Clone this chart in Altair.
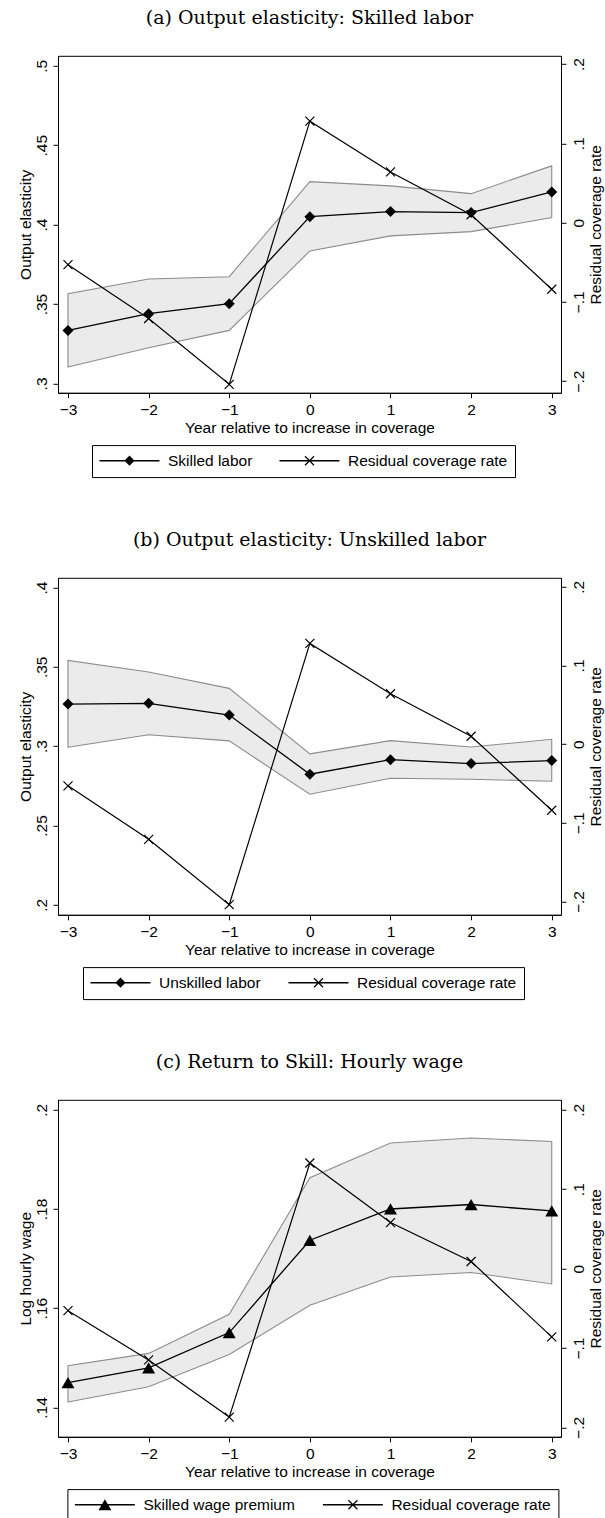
import altair as alt
import pandas as pd

# ---------------- data ----------------
years = [-3, -2, -1, 0, 1, 2, 3]

# (a) Skilled labor
skilled = [0.3334, 0.3439, 0.3502, 0.4050, 0.4082, 0.4076, 0.4206]
skilled_hi = [0.3565, 0.3658, 0.3672, 0.4271, 0.4244, 0.4195, 0.4370]
skilled_lo = [0.3103, 0.3225, 0.3334, 0.3834, 0.3929, 0.3956, 0.4044]

# (b) Unskilled labor
unskilled = [0.3265, 0.3270, 0.3196, 0.2823, 0.2915, 0.2890, 0.2909]
unskilled_hi = [0.3540, 0.3467, 0.3364, 0.2951, 0.3035, 0.2995, 0.3043]
unskilled_lo = [0.2993, 0.3072, 0.3033, 0.2697, 0.2798, 0.2791, 0.2779]

# residual coverage rate, panels (a) and (b)
resid_ab = [-0.053, -0.121, -0.204, 0.128, 0.064, 0.010, -0.084]

# (c) Skilled wage premium
premium = [0.1450, 0.1480, 0.1551, 0.1737, 0.1800, 0.1809, 0.1796]
premium_hi = [0.1484, 0.1509, 0.1588, 0.1863, 0.1933, 0.1943, 0.1936]
premium_lo = [0.1411, 0.1442, 0.1507, 0.1606, 0.1663, 0.1672, 0.1649]
resid_c = [-0.053, -0.115, -0.187, 0.133, 0.058, 0.009, -0.086]

ticks_a = [0.3, 0.35, 0.4, 0.45, 0.5]
ticks_b = [0.2, 0.25, 0.3, 0.35, 0.4]
ticks_c = [0.14, 0.16, 0.18, 0.2]
ticks_r = [-0.2, -0.1, 0, 0.1, 0.2]

FONT = "Liberation Sans"
TFONT = "DejaVu Serif"
FS = 15.5
W, H = 503, 337

# marker / legend-symbol glyphs (custom SVG symbol paths)
X_MARK = "M-1,-1L1,1M-1,1L1,-1"
LEG_LINE = "M-5,-0.11L5,-0.11L5,0.11L-5,0.11Z"
DIAMOND_LEG = LEG_LINE + "M0,-0.85L0.85,0L0,0.85L-0.85,0Z"
TRI_LEG = LEG_LINE + "M0,-0.92L1.08,0.92L-1.08,0.92Z"
X_LEG = (LEG_LINE + "M-0.68,-0.82L0.82,0.68L0.68,0.82L-0.82,-0.68Z"
         + "M-0.68,0.82L-0.82,0.68L0.68,-0.82L0.82,-0.68Z")


def lead0(fmt):
    return ("datum.value == 0 ? '0' : (datum.value < 0 ? '\u2212' : '') + "
            f"substring(format(abs(datum.value), '{fmt}'), 1)")


def panel(title, ylabel, main_label, est, lo, hi, resid, ydom, yvals, rdom,
          main_shape, main_size, leg_path, legx):
    df = pd.DataFrame({"year": years, "est": est, "lo": lo, "hi": hi,
                       "resid": resid})
    base = alt.Chart(df)
    x = alt.X("year:Q",
              scale=alt.Scale(domain=[-3.124, 3.115], nice=False, zero=False),
              axis=alt.Axis(values=years, format="d",
                            title="Year relative to increase in coverage",
                            tickSize=5, labelPadding=5, titlePadding=2,
                            grid=False))
    yscale = alt.Scale(domain=ydom, nice=False, zero=False)
    laxis = alt.Axis(title=ylabel, values=yvals, labelExpr=lead0(".2~f"),
                     labelAngle=270, labelAlign="center",
                     labelBaseline="alphabetic", labelPadding=7, tickSize=5,
                     titlePadding=1, grid=False)
    rscale = alt.Scale(domain=rdom, nice=False, zero=False)
    raxis = alt.Axis(orient="right", title="Residual coverage rate",
                     values=ticks_r, labelExpr=lead0(".1~f"), labelAngle=270,
                     labelAlign="center", labelBaseline="top", labelPadding=6,
                     tickSize=5, titleAngle=270, titleBaseline="top",
                     titlePadding=1, grid=False)

    band = base.mark_area(fill="#ebebeb", stroke="#8c8c8c",
                          strokeWidth=1.1).encode(
        x=x, y=alt.Y("lo:Q", scale=yscale, axis=laxis, title=ylabel),
        y2="hi:Q")
    line = base.mark_line(color="black", strokeWidth=1.3).encode(
        x=x, y=alt.Y("est:Q", scale=yscale, axis=laxis, title=ylabel))
    pts = base.mark_point(shape=main_shape, filled=True, color="black",
                          size=main_size, opacity=1).encode(
        x=x, y=alt.Y("est:Q", scale=yscale, axis=laxis, title=ylabel))
    leg = base.transform_filter("false").transform_calculate(
        series="'x'").mark_point(
        filled=True, color="black", fill="black", strokeWidth=0, size=144,
        opacity=1).encode(
        shape=alt.Shape(
            "series:N",
            scale=alt.Scale(domain=[main_label, "Residual coverage rate"],
                            range=[leg_path, X_LEG]),
            legend=alt.Legend(
                title=None, orient="none", legendX=legx, legendY=389.3,
                direction="horizontal", symbolSize=144,
                symbolStrokeWidth=0, symbolOffset=22.25, labelOffset=30.75,
                columnPadding=27, padding=7.5, strokeColor="black",
                labelFont=FONT, labelFontSize=FS, labelColor="black",
                symbolOpacity=1, symbolFillColor="black", labelLimit=400)))

    rline = base.mark_line(color="black", strokeWidth=1.2).encode(
        x=x, y=alt.Y("resid:Q", scale=rscale, axis=raxis,
                     title="Residual coverage rate"))
    rpts = base.mark_point(shape=X_MARK, size=81, stroke="black",
                           strokeWidth=1.2, filled=False, opacity=1).encode(
        x=x, y=alt.Y("resid:Q", scale=rscale, axis=raxis,
                     title="Residual coverage rate"))

    left = alt.layer(band, line, pts, leg)
    right = alt.layer(rline, rpts)
    return alt.layer(left, right).resolve_scale(y="independent").properties(
        width=W, height=H,
        title=alt.TitleParams(text=title, font=TFONT, fontSize=19,
                              fontWeight="normal", anchor="middle",
                              frame="group", offset=28, color="black"))


pa = panel("(a) Output elasticity: Skilled labor", "Output elasticity",
           "Skilled labor", skilled, skilled_lo, skilled_hi, resid_ab,
           [0.2941, 0.5063], ticks_a, [-0.2147, 0.2105],
           "diamond", 121, DIAMOND_LEG, 34)
pb = panel("(b) Output elasticity: Unskilled labor", "Output elasticity",
           "Unskilled labor", unskilled, unskilled_lo, unskilled_hi, resid_ab,
           [0.1937, 0.4061], ticks_b, [-0.2169, 0.2114],
           "diamond", 121, DIAMOND_LEG, 25)
pc = panel("(c) Return to Skill: Hourly wage", "Log hourly wage",
           "Skilled wage premium", premium, premium_lo, premium_hi, resid_c,
           [0.1341, 0.2020], ticks_c, [-0.2118, 0.2126],
           "triangle-up", 169, TRI_LEG, 9.4)

chart = alt.vconcat(pa, pb, pc, spacing=51).resolve_scale(
    shape="independent", x="independent"
).resolve_legend(shape="independent").properties(
    padding={"left": 17, "top": 7.8, "right": 0, "bottom": 0},
    background="white",
).configure_view(stroke="black", strokeWidth=1).configure_axis(
    labelFont=FONT, labelFontSize=FS, labelColor="black",
    titleFont=FONT, titleFontSize=FS, titleColor="black",
    titleFontWeight="normal", domainColor="black", tickColor="black",
    domainWidth=1, tickWidth=1,
)

chart.save("out.html", embed_options={"renderer": "svg", "actions": False})
